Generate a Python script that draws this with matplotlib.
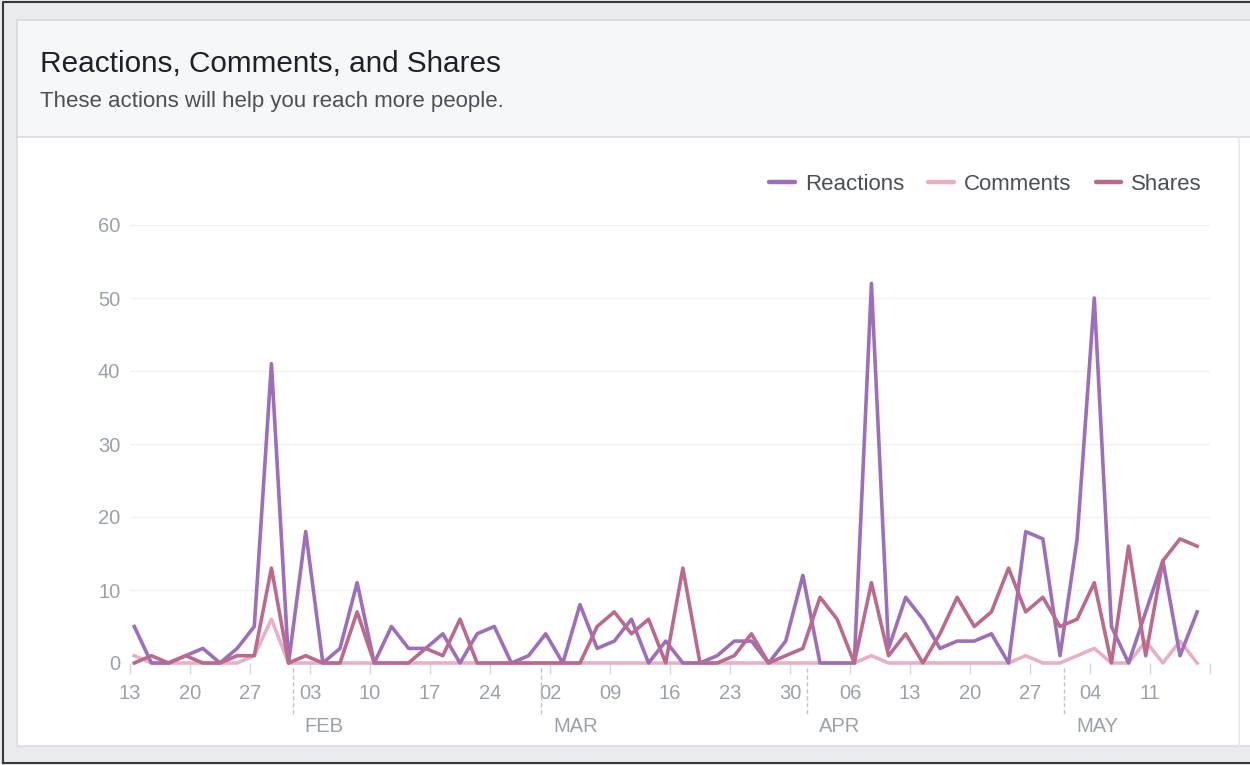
import pandas as pd
import matplotlib
matplotlib.use("Agg")
import matplotlib.pyplot as plt
from matplotlib.patches import Rectangle
from matplotlib.lines import Line2D

plt.rcParams["font.family"] = ["Liberation Sans", "DejaVu Sans"]

W, H = 1250, 765

# one point every two days, Jan 13 - May 16 2016
dates = pd.date_range("2016-01-13 12:00", periods=63, freq="2D")
reactions = [5, 0, 0, 1, 2, 0, 2, 5, 41, 0, 18, 0, 2, 11, 0, 5, 2, 2, 4, 0,
             4, 5, 0, 1, 4, 0, 8, 2, 3, 6, 0, 3, 0, 0, 1, 3, 3, 0, 3, 12,
             0, 0, 0, 52, 2, 9, 6, 2, 3, 3, 4, 0, 18, 17, 1, 17, 50, 5, 0, 7,
             14, 1, 7]
comments = [1, 0, 0, 0, 0, 0, 0, 1, 6, 0, 0, 0, 0, 0, 0, 0, 0, 0, 0, 0,
            0, 0, 0, 0, 0, 0, 0, 0, 0, 0, 0, 0, 0, 0, 0, 0, 0, 0, 0, 0,
            0, 0, 0, 1, 0, 0, 0, 0, 0, 0, 0, 0, 1, 0, 0, 1, 2, 0, 0, 3,
            0, 3, 0]
shares = [0, 1, 0, 1, 0, 0, 1, 1, 13, 0, 1, 0, 0, 7, 0, 0, 0, 2, 1, 6,
          0, 0, 0, 0, 0, 0, 0, 5, 7, 4, 6, 0, 13, 0, 0, 1, 4, 0, 1, 2,
          9, 6, 0, 11, 1, 4, 0, 4, 9, 5, 7, 13, 7, 9, 5, 6, 11, 0, 16, 1,
          14, 17, 16]

week_ticks = pd.date_range("2016-01-13", "2016-05-18", freq="7D")
month_starts = pd.to_datetime(["2016-02-01", "2016-03-01", "2016-04-01", "2016-05-01"])
month_names = ["FEB", "MAR", "APR", "MAY"]
y_ticks = [0, 10, 20, 30, 40, 50, 60]

c_react = "#9d6fbb"
c_comm = "#e8b0c6"
c_share = "#bb6a8d"
grey_txt = "#9ba1ab"


def fx(x):
    return x / W


def fy(y):
    return 1 - y / H


fig = plt.figure(figsize=(W / 100, H / 100), dpi=100, facecolor="#e9ebee")

# card, header and frame
fig.patches.append(Rectangle((fx(17), fy(746)), fx(1300 - 17), fy(20) - fy(746),
                             transform=fig.transFigure, facecolor="white",
                             edgecolor="#d9dbe0", lw=1.2, zorder=-3))
fig.patches.append(Rectangle((fx(17), fy(137)), fx(1300 - 17), fy(20) - fy(137),
                             transform=fig.transFigure, facecolor="#f6f7f9",
                             edgecolor="#d9dbe0", lw=1.2, zorder=-2))
fig.add_artist(Line2D([fx(1239), fx(1239)], [fy(137), fy(746)],
                      color="#e6e8eb", lw=1.2, zorder=-1))
fig.add_artist(Line2D([fx(3), fx(3), fx(1260)], [fy(763), fy(2), fy(2)],
                      color="#3a3a3a", lw=1.5, zorder=-1))
fig.add_artist(Line2D([fx(3), fx(1260)], [fy(763), fy(763)],
                      color="#3a3a3a", lw=1.5, zorder=-1))

fig.text(fx(40), fy(64), "Reactions, Comments, and Shares", fontsize=21.4,
         color="#1d2129", va="center", ha="left")
fig.text(fx(40), fy(101), "These actions will help you reach more people.",
         fontsize=16, color="#4b4f56", va="center", ha="left")

ax = fig.add_axes([fx(130), fy(663), fx(1210 - 130), fy(225) - fy(663)])
ax.set_facecolor("none")

ax.plot(dates, comments, color=c_comm, lw=2.6, clip_on=False, zorder=3, label="Comments")
ax.plot(dates, reactions, color=c_react, lw=2.6, clip_on=False, zorder=4, label="Reactions")
ax.plot(dates, shares, color=c_share, lw=2.6, clip_on=False, zorder=5, label="Shares")

ax.set_xlim(pd.Timestamp("2016-01-13"), pd.Timestamp("2016-05-18"))
ax.set_ylim(0, 60)
ax.set_yticks(y_ticks)
ax.set_xticks(week_ticks)
ax.set_xticklabels([d.strftime("%d") for d in week_ticks[:-1]] + [""])
ax.grid(axis="y", color="#eef0f2", lw=1)
ax.set_axisbelow(True)
for s in ax.spines.values():
    s.set_visible(False)
ax.tick_params(axis="y", length=0, pad=7, labelsize=14.5, labelcolor=grey_txt)
ax.tick_params(axis="x", length=8, width=1, color="#d3d6db", pad=7,
               labelsize=14.5, labelcolor=grey_txt)

# month separators and names
trans = ax.get_xaxis_transform()
for d, name in zip(month_starts, month_names):
    ax.plot([d, d], [-0.012, -0.12], transform=trans, color="#bfc3c9",
            lw=1, ls=(0, (3, 2)), clip_on=False)
    ax.text(d + pd.Timedelta(days=1.4), -0.145, name, transform=trans,
            fontsize=14.5, color=grey_txt, ha="left", va="center")

handles = [Line2D([], [], color=c, lw=3.2, solid_capstyle="round")
           for c in (c_react, c_comm, c_share)]
fig.legend(handles, ["Reactions", "Comments", "Shares"], loc="center right",
           bbox_to_anchor=(fx(1202), fy(184)), ncol=3, frameon=False,
           fontsize=16, labelcolor="#4b4f56", handlelength=1.15,
           handletextpad=0.45, columnspacing=1.1, borderpad=0,
           borderaxespad=0)

fig.savefig("out.png", dpi=100, facecolor=fig.get_facecolor())
